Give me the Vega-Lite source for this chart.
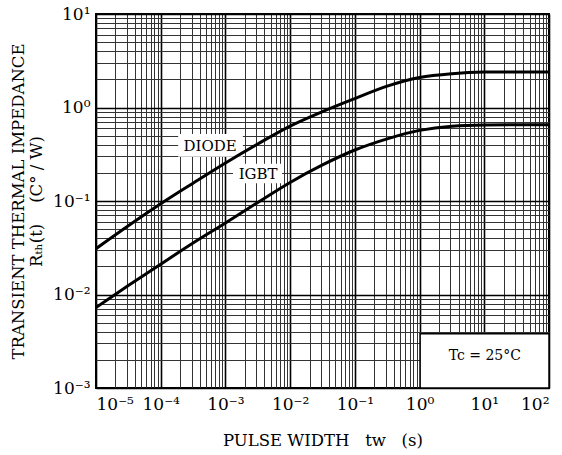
{
  "$schema": "https://vega.github.io/schema/vega-lite/v6.json",
  "autosize": {"type": "none"},
  "padding": {"left": 96, "top": 14, "right": 13, "bottom": 67},
  "width": 453,
  "height": 374,
  "background": "white",
  "title": {"text": "Rₜₕ(t)  —  tᵥᵥ", "offset": 11, "baseline": "alphabetic", "font": "DejaVu Serif", "fontSize": 16, "fontWeight": "normal", "anchor": "middle", "color": "black"},
  "config": {
    "view": {"stroke": "black", "strokeWidth": 2},
    "font": "DejaVu Serif",
    "axis": {"domain": false, "ticks": false, "tickSize": 0, "labelOverlap": false, "labelFont": "DejaVu Serif", "labelColor": "black", "titleFont": "DejaVu Serif", "titleFontWeight": "normal", "titleColor": "black", "gridOpacity": 1}
  },
  "datasets": {
    "curves": [
      {"series": "DIODE", "t": 0.00001, "z": 0.0309},
      {"series": "DIODE", "t": 0.0000316, "z": 0.0543},
      {"series": "DIODE", "t": 0.0001, "z": 0.0933},
      {"series": "DIODE", "t": 0.000316, "z": 0.155},
      {"series": "DIODE", "t": 0.001, "z": 0.255},
      {"series": "DIODE", "t": 0.00316, "z": 0.407},
      {"series": "DIODE", "t": 0.01, "z": 0.631},
      {"series": "DIODE", "t": 0.0316, "z": 0.902},
      {"series": "DIODE", "t": 0.1, "z": 1.245},
      {"series": "DIODE", "t": 0.316, "z": 1.69},
      {"series": "DIODE", "t": 1, "z": 2.09},
      {"series": "DIODE", "t": 3.16, "z": 2.3},
      {"series": "DIODE", "t": 10, "z": 2.39},
      {"series": "DIODE", "t": 31.6, "z": 2.4},
      {"series": "DIODE", "t": 100, "z": 2.4},
      {"series": "IGBT", "t": 0.00001, "z": 0.00724},
      {"series": "IGBT", "t": 0.0000316, "z": 0.01245},
      {"series": "IGBT", "t": 0.0001, "z": 0.0211},
      {"series": "IGBT", "t": 0.000316, "z": 0.0355},
      {"series": "IGBT", "t": 0.001, "z": 0.0582},
      {"series": "IGBT", "t": 0.00316, "z": 0.0966},
      {"series": "IGBT", "t": 0.01, "z": 0.158},
      {"series": "IGBT", "t": 0.0316, "z": 0.243},
      {"series": "IGBT", "t": 0.1, "z": 0.351},
      {"series": "IGBT", "t": 0.316, "z": 0.462},
      {"series": "IGBT", "t": 1, "z": 0.569},
      {"series": "IGBT", "t": 3.16, "z": 0.631},
      {"series": "IGBT", "t": 10, "z": 0.65},
      {"series": "IGBT", "t": 31.6, "z": 0.653},
      {"series": "IGBT", "t": 100, "z": 0.653}
    ],
    "boxes": [
      {"label": "DIODE", "x1": 0.000186, "x2": 0.00186, "y1": 0.298, "y2": 0.52, "tx": 0.00058, "ty": 0.385},
      {"label": "IGBT", "x1": 0.00131, "x2": 0.0075, "y1": 0.155, "y2": 0.251, "tx": 0.0032, "ty": 0.195}
    ],
    "note": [
      {"label": "Tc = 25°C", "x1": 1.02, "x2": 100, "y1": 0.001, "y2": 0.0038, "tx": 10.2, "ty": 0.0022}
    ]
  },
  "layer": [
    {
      "data": {"name": "boxes"},
      "mark": {"type": "rect", "fill": "white", "stroke": null},
      "encoding": {
        "x": {"field": "x1", "type": "quantitative", "scale": {"type": "log", "domain": [0.00001, 100]},
          "title": "PULSE WIDTH\u00a0\u00a0\u00a0tw\u00a0\u00a0\u00a0(s)",
          "axis": {
            "values": [0.00001,0.00002,0.00003,0.00004,0.00005,0.00006,0.00007,0.00008,0.00009,0.0001,0.0002,0.0003,0.0004,0.0005,0.0006,0.0007,0.0008,0.0009,0.001,0.002,0.003,0.004,0.005,0.006,0.007,0.008,0.009,0.01,0.02,0.03,0.04,0.05,0.06,0.07,0.08,0.09,0.1,0.2,0.3,0.4,0.5,0.6,0.7,0.8,0.9,1,2,3,4,5,6,7,8,9,10,20,30,40,50,60,70,80,90,100],
            "labelExpr": "datum.value == 0.00001 ? '10⁻⁵' : datum.value == 0.0001 ? '10⁻⁴' : datum.value == 0.001 ? '10⁻³' : datum.value == 0.01 ? '10⁻²' : datum.value == 0.1 ? '10⁻¹' : datum.value == 1 ? '10⁰' : datum.value == 10 ? '10¹' : datum.value == 100 ? '10²' : ''",
            "labelFontSize": 17, "labelPadding": 8, "titleFontSize": 16.5, "titlePadding": 20,
            "grid": true,
            "gridColor": {"condition": {"test": "indexof([0.00001,0.0001,0.001,0.01,0.1,1,10,100], datum.value) >= 0", "value": "#000000"}, "value": "#333333"},
            "gridWidth": {"condition": {"test": "indexof([0.00001,0.0001,0.001,0.01,0.1,1,10,100], datum.value) >= 0", "value": 1.6}, "value": 1}
          }
        },
        "x2": {"field": "x2"},
        "y": {"field": "y1", "type": "quantitative", "scale": {"type": "log", "domain": [0.001, 10]},
          "title": ["TRANSIENT THERMAL IMPEDANCE", "Rₜₕ(t)\u00a0\u00a0\u00a0\u00a0(C°\u00a0/\u00a0W)"],
          "axis": {
            "values": [0.001,0.002,0.003,0.004,0.005,0.006,0.007,0.008,0.009,0.01,0.02,0.03,0.04,0.05,0.06,0.07,0.08,0.09,0.1,0.2,0.3,0.4,0.5,0.6,0.7,0.8,0.9,1,2,3,4,5,6,7,8,9,10],
            "labelExpr": "datum.value == 0.001 ? '10⁻³' : datum.value == 0.01 ? '10⁻²' : datum.value == 0.1 ? '10⁻¹' : datum.value == 1 ? '10⁰' : datum.value == 10 ? '10¹' : ''",
            "labelFontSize": 17, "labelPadding": 6, "titleFontSize": 16.5, "titlePadding": 8, "titleLineHeight": 18,
            "grid": true,
            "gridColor": {"condition": {"test": "indexof([0.001,0.01,0.1,1,10], datum.value) >= 0", "value": "#000000"}, "value": "#333333"},
            "gridWidth": {"condition": {"test": "indexof([0.001,0.01,0.1,1,10], datum.value) >= 0", "value": 1.6}, "value": 1}
          }
        },
        "y2": {"field": "y2"}
      }
    },
    {
      "data": {"name": "note"},
      "mark": {"type": "rect", "fill": "white", "stroke": "black", "strokeWidth": 1.5},
      "encoding": {
        "x": {"field": "x1", "type": "quantitative", "scale": {"type": "log"}},
        "x2": {"field": "x2"},
        "y": {"field": "y1", "type": "quantitative", "scale": {"type": "log"}},
        "y2": {"field": "y2"}
      }
    },
    {
      "data": {"name": "curves"},
      "mark": {"type": "line", "color": "black", "strokeWidth": 3, "interpolate": "monotone", "clip": true},
      "encoding": {
        "x": {"field": "t", "type": "quantitative", "scale": {"type": "log"}},
        "y": {"field": "z", "type": "quantitative", "scale": {"type": "log"}},
        "detail": {"field": "series"}
      }
    },
    {
      "data": {"name": "boxes"},
      "mark": {"type": "text", "font": "DejaVu Serif", "fontSize": 15, "color": "black"},
      "encoding": {
        "x": {"field": "tx", "type": "quantitative", "scale": {"type": "log"}},
        "y": {"field": "ty", "type": "quantitative", "scale": {"type": "log"}},
        "text": {"field": "label"}
      }
    },
    {
      "data": {"name": "note"},
      "mark": {"type": "text", "font": "DejaVu Serif", "fontSize": 14, "color": "black"},
      "encoding": {
        "x": {"field": "tx", "type": "quantitative", "scale": {"type": "log"}},
        "y": {"field": "ty", "type": "quantitative", "scale": {"type": "log"}},
        "text": {"field": "label"}
      }
    }
  ]
}
